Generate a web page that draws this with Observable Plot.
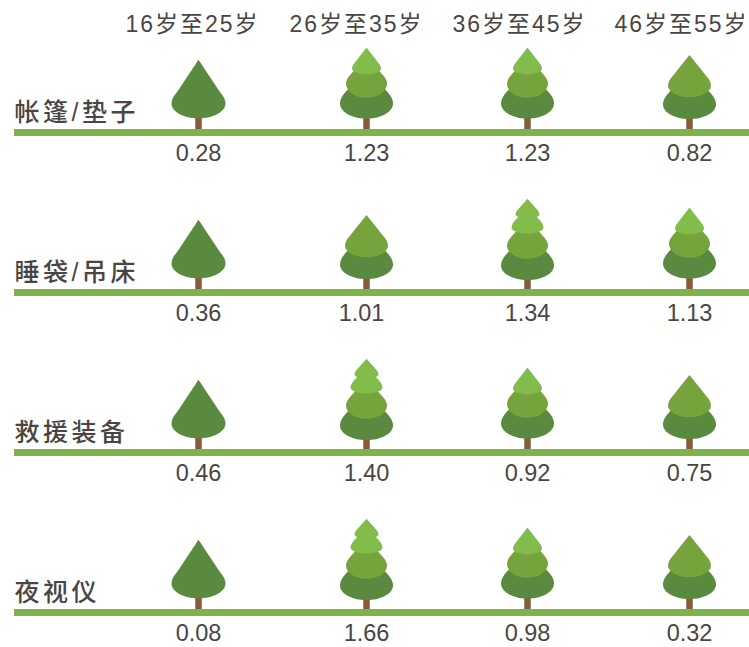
<!DOCTYPE html>
<html lang="zh">
<head>
<meta charset="utf-8">
<title>装备树</title>
<script src="https://cdn.jsdelivr.net/npm/d3@7"></script>
<script src="https://cdn.jsdelivr.net/npm/@observablehq/plot@0.6"></script>
<style>
  html, body { margin: 0; padding: 0; background: #fff; }
  svg { display: block; }
  .age-label text { letter-spacing: 2px; }
  .row-label text { letter-spacing: 3.5px; }
</style>
</head>
<body>
<div id="chart"></div>
<script>
// Age groups (columns) and gear categories (rows)
const ages = ["16岁至25岁", "26岁至35岁", "36岁至45岁", "46岁至55岁"];
const gear = ["帐篷/垫子", "睡袋/吊床", "救援装备", "夜视仪"];

// Index value per gear category, one entry per age group
const tentValues = [0.28, 1.23, 1.23, 0.82];
const sleepValues = [0.36, 1.01, 1.34, 1.13];
const rescueValues = [0.46, 1.40, 0.92, 0.75];
const nightValues = [0.08, 1.66, 0.98, 0.32];

// Number of foliage tiers on each tree
const tentTiers = [1, 3, 3, 2];
const sleepTiers = [1, 2, 4, 3];
const rescueTiers = [1, 4, 3, 2];
const nightTiers = [1, 4, 3, 2];

const valueTable = [tentValues, sleepValues, rescueValues, nightValues];
const tierTable = [tentTiers, sleepTiers, rescueTiers, nightTiers];

const trees = gear.flatMap((row, r) =>
  ages.map((age, c) => ({row, col: c, value: valueTable[r][c], tiers: tierTable[r][c]}))
);

// Foliage palette, bottom tier to top
const dark = "#5a8a3f", mid = "#76a33b", light = "#82bd4c";

// Silhouette of each tree by tier count: height of the widest point above
// ground, half width, cone rise and bottom sag (both relative to half width)
const silhouettes = {
  1: [{h: 29, r: 27, rise: 1.62, sag: 0.55, fill: dark}],
  2: [{h: 28, r: 26.5, rise: 1.3, sag: 0.55, fill: dark},
      {h: 47, r: 21.5, rise: 1.42, sag: 0.55, fill: mid}],
  3: [{h: 29, r: 26.5, rise: 1.3, sag: 0.57, fill: dark},
      {h: 49, r: 20.5, rise: 1.3, sag: 0.7, fill: mid},
      {h: 64, r: 14.5, rise: 1.45, sag: 0.4, fill: light}],
  4: [{h: 27, r: 26.5, rise: 1.3, sag: 0.55, fill: dark},
      {h: 47, r: 20.5, rise: 1.3, sag: 0.65, fill: mid},
      {h: 65, r: 16, rise: 1.25, sag: 0.38, fill: light},
      {h: 78, r: 12, rise: 1.32, sag: 0.33, fill: light}]
};

// A cone with a rounded skirt, for use as a dot symbol
function crown(rise, sag) {
  return {
    draw(ctx, size) {
      const r = Math.sqrt(size / Math.PI);
      ctx.moveTo(0, -rise * r);
      ctx.lineTo(-0.8 * r, -0.42 * r);
      ctx.quadraticCurveTo(-r, -0.2 * r, -r, 0);
      ctx.bezierCurveTo(-r, 0.55 * sag * r, -0.55 * r, sag * r, 0, sag * r);
      ctx.bezierCurveTo(0.55 * r, sag * r, r, 0.55 * sag * r, r, 0);
      ctx.quadraticCurveTo(r, -0.2 * r, 0.8 * r, -0.42 * r);
      ctx.closePath();
    }
  };
}

const crownMarks = Object.entries(silhouettes).flatMap(([count, tiers]) =>
  tiers.map((t) =>
    Plot.dot(trees.filter((d) => d.tiers === +count), {
      x: "col",
      y: t.h,
      fy: "row",
      r: t.r,
      fill: t.fill,
      symbol: crown(t.rise, t.sag)
    })
  )
);

const labelShift = [-6, -10, -8, -8];
const ink = "#4a4545";
const valueLabel = {
  x: "col",
  y: -21,
  fy: "row",
  text: (d) => d.value.toFixed(2),
  fontSize: 23.5,
  fill: ink
};

const chart = Plot.plot({
  width: 749,
  height: 647,
  marginLeft: 14,
  marginRight: 0,
  marginTop: 7,
  marginBottom: 0,
  style: {background: "#fff", fontFamily: "'Liberation Sans', 'Noto Sans CJK SC', sans-serif"},
  x: {type: "linear", domain: [0, 1, 2, 3], range: [198, 366, 527, 689], axis: null},
  y: {domain: [-35, 125], axis: null},
  fy: {domain: gear, padding: 0, axis: null},
  marks: [
    // trunks
    Plot.ruleX(trees, {x: "col", y1: 0, y2: 25, fy: "row", stroke: "#8a5a3c", strokeWidth: 6.5}),
    ...crownMarks,
    // ground line
    Plot.ruleY(gear, {y: 0, fy: (d) => d, stroke: "#7eb24d", strokeWidth: 7}),
    // values under the ground line; 1.01 sits a little left of its tree
    Plot.text(trees.filter((d) => d.value !== 1.01), valueLabel),
    Plot.text(trees.filter((d) => d.value === 1.01), {...valueLabel, dx: -5}),
    // gear category names
    Plot.text(gear, {
      frameAnchor: "left",
      y: 20,
      fy: (d) => d,
      text: (d) => d,
      textAnchor: "start",
      fontSize: 25,
      fontWeight: 500,
      fill: ink,
      className: "row-label"
    }),
    // age group headings above the first row
    ...ages.map((age, i) =>
      Plot.text([age], {
        x: i,
        dx: labelShift[i],
        y: 108,
        fy: () => gear[0],
        text: (d) => d,
        fontSize: 23,
        fill: ink,
        className: "age-label"
      })
    )
  ]
});

document.getElementById("chart").append(chart);
</script>
</body>
</html>
